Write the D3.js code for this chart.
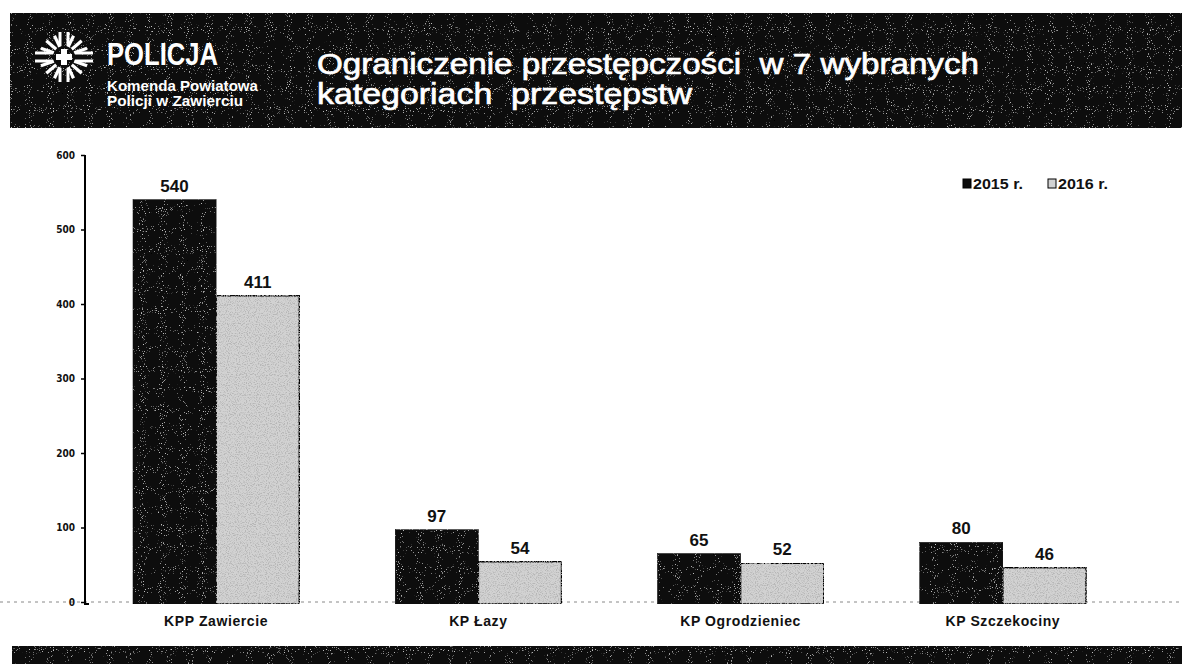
<!DOCTYPE html>
<html>
<head>
<meta charset="utf-8">
<script src="https://cdn.jsdelivr.net/npm/d3@7"></script>
<style>
  body { margin: 0; background: #fff; }
  svg { display: block; }
</style>
</head>
<body>
<div id="graf"></div>
<script>
const W = 1182
const H = 664

// Data
const categories = ["KPP Zawiercie", "KP Łazy", "KP Ogrodzieniec", "KP Szczekociny"]
const years = ["2015 r.", "2016 r."]
const values2015 = [540, 97, 65, 80]
const values2016 = [411, 54, 52, 46]
const yTicks = [0, 100, 200, 300, 400, 500, 600]

const svg = d3.select("#graf")
  .append("svg")
  .attr("width", W)
  .attr("height", H)

// texture filters (scan look)
const defs = svg.append("defs")
const mkFilter = (id, dotColor, scale, bias, freq) => {
  const f = defs.append("filter").attr("id", id)
    .attr("x", 0).attr("y", 0).attr("width", 1).attr("height", 1)
  f.append("feTurbulence").attr("type", "fractalNoise")
    .attr("baseFrequency", freq).attr("numOctaves", 1).attr("seed", 7).attr("result", "n")
  const c = d3.color(dotColor)
  f.append("feColorMatrix").attr("in", "n").attr("type", "matrix")
    .attr("values", `0 0 0 0 ${c.r / 255}  0 0 0 0 ${c.g / 255}  0 0 0 0 ${c.b / 255}  ${scale} 0 0 0 ${bias}`)
    .attr("result", "dots")
  f.append("feComposite").attr("in", "dots").attr("in2", "SourceGraphic")
    .attr("operator", "in").attr("result", "d2")
  const m = f.append("feMerge")
  m.append("feMergeNode").attr("in", "SourceGraphic")
  m.append("feMergeNode").attr("in", "d2")
}
mkFilter("speckW", "#8a8a8a", 9, -5.9, 0.95)
mkFilter("speckK", "#777777", 5, -2.4, 0.9)

// header band
svg.append("rect")
  .attr("x", 10).attr("y", 13).attr("width", W - 10).attr("height", 115)
  .attr("fill", "#0e0e0e").attr("filter", "url(#speckW)")

// police emblem
const logo = svg.append("g").attr("transform", "translate(64,57)")
  .attr("stroke", "#fff").attr("stroke-linecap", "butt")
d3.range(16).forEach(i => {
  const a = (i * Math.PI * 2) / 16
  if (i % 4 === 0) return
  logo.append("line")
    .attr("x1", Math.cos(a) * 11).attr("y1", Math.sin(a) * 11)
    .attr("x2", Math.cos(a) * 25).attr("y2", Math.sin(a) * 23)
    .attr("stroke-width", 3.2)
})
;[-4, 4].forEach(o => {
  logo.append("line").attr("x1", -29).attr("x2", -11).attr("y1", o).attr("y2", o).attr("stroke-width", 3)
  logo.append("line").attr("x1", 11).attr("x2", 29).attr("y1", o).attr("y2", o).attr("stroke-width", 3)
  logo.append("line").attr("x1", o).attr("x2", o).attr("y1", -25).attr("y2", -11).attr("stroke-width", 3)
  logo.append("line").attr("x1", o).attr("x2", o).attr("y1", 11).attr("y2", 25).attr("stroke-width", 3)
})
logo.append("path").attr("d", "M-8,-3H-3V-8H3V-3H8V3H3V8H-3V3H-8Z")
  .attr("fill", "#fff").attr("stroke", "none")

const headText = (txt, x, y, size, weight, len) =>
  svg.append("text")
    .attr("x", x).attr("y", y)
    .attr("fill", "#fff")
    .attr("font-family", "'Liberation Sans Narrow', 'Liberation Sans', Arial, sans-serif")
    .attr("font-size", size).attr("font-weight", weight)
    .attr("textLength", len).attr("lengthAdjust", "spacingAndGlyphs")
    .text(txt)

headText("POLICJA", 107, 65, 31, "bold", 111)
headText("Komenda Powiatowa", 107, 91, 14, "bold", 151)
headText("Policji w Zawierciu", 107, 106, 14, "bold", 136)

const titleFont = "'Liberation Sans', Arial, sans-serif"
const title = (txt, yy, len) =>
  svg.append("text").attr("x", 317).attr("y", yy)
    .attr("fill", "#fff").attr("stroke", "#fff").attr("stroke-width", 0.7)
    .attr("font-family", titleFont).attr("font-size", 30)
    .attr("textLength", len).attr("lengthAdjust", "spacingAndGlyphs")
    .attr("xml:space", "preserve")
    .text(txt)
title("Ograniczenie przestępczości  w 7 wybranych", 74, 662)
title("kategoriach  przestępstw", 104, 375)

// bottom band
svg.append("rect")
  .attr("x", 12).attr("y", 646).attr("width", W - 12).attr("height", 18)
  .attr("fill", "#0e0e0e").attr("filter", "url(#speckW)")

// Escaladores
const y = d3.scaleLinear().domain([0, 600]).range([602, 155])
const x0 = d3.scaleBand().domain(categories).range([85, 1134])
  .paddingInner(0.366).paddingOuter(0.183)
const x1 = d3.scaleBand().domain(years).range([0, x0.bandwidth()])
const fills = { "2015 r.": "#0c0c0c", "2016 r.": "#d2d2d2" }

// dotted baseline
svg.append("line")
  .attr("x1", 0).attr("x2", W).attr("y1", y(0)).attr("y2", y(0))
  .attr("stroke", "#888").attr("stroke-width", 1)
  .attr("stroke-dasharray", "3,4")

// y axis
const yAxis = d3.axisLeft(y).tickValues(yTicks).tickSize(4).tickPadding(6)
const ga = svg.append("g").attr("transform", "translate(85,0)").call(yAxis)
ga.select(".domain").attr("stroke", "#000").attr("stroke-width", 2)
  .attr("d", `M0,${y(600)}V${y(0) + 2}H4`)
ga.selectAll(".tick line").attr("stroke", "#000").attr("stroke-width", 1.5)
ga.selectAll(".tick text")
  .attr("fill", "#111")
  .attr("font-family", "'DejaVu Sans Condensed', 'DejaVu Sans', sans-serif")
  .attr("font-weight", "bold")
  .attr("font-size", 10)

// bars
const rows = categories.map((c, i) => ({
  cat: c,
  vals: [
    { year: years[0], v: values2015[i] },
    { year: years[1], v: values2016[i] },
  ],
}))

const groups = svg.selectAll("g.grupo").data(rows).join("g")
  .attr("class", "grupo")
  .attr("transform", d => `translate(${x0(d.cat)},0)`)

groups.selectAll("rect").data(d => d.vals).join("rect")
  .attr("x", d => x1(d.year))
  .attr("y", d => y(d.v))
  .attr("width", x1.bandwidth())
  .attr("height", d => y(0) - y(d.v) + 2)
  .attr("fill", d => fills[d.year])
  .attr("stroke", "#000")
  .attr("stroke-width", d => (d.year === years[1] ? 1.5 : 0.5))
  .attr("filter", d => (d.year === years[0] ? "url(#speckW)" : "url(#speckK)"))

groups.selectAll("text.val").data(d => d.vals).join("text")
  .attr("class", "val")
  .attr("x", d => x1(d.year) + x1.bandwidth() / 2)
  .attr("y", d => y(d.v) - 8)
  .attr("text-anchor", "middle")
  .attr("font-family", "'Liberation Sans', Arial, sans-serif")
  .attr("font-weight", "bold")
  .attr("font-size", 17)
  .attr("fill", "#111")
  .text(d => d.v)

// category labels
svg.selectAll("text.cat").data(categories).join("text")
  .attr("class", "cat")
  .attr("x", d => x0(d) + x0.bandwidth() / 2)
  .attr("y", 626)
  .attr("text-anchor", "middle")
  .attr("font-family", "'Liberation Sans', Arial, sans-serif")
  .attr("font-weight", "bold")
  .attr("font-size", 14)
  .attr("letter-spacing", 0.6)
  .attr("fill", "#111")
  .text(d => d)

// legend
const leg = svg.append("g").attr("transform", "translate(963,189)")
let lx = 0
years.forEach((yr, i) => {
  leg.append("rect")
    .attr("x", lx).attr("y", -10).attr("width", 8).attr("height", 9)
    .attr("fill", fills[yr]).attr("stroke", "#000").attr("stroke-width", 1)
  leg.append("text")
    .attr("x", lx + 10).attr("y", 0)
    .attr("font-family", "'Liberation Sans', Arial, sans-serif")
    .attr("font-weight", "bold").attr("font-size", 15)
    .attr("textLength", 50).attr("lengthAdjust", "spacingAndGlyphs")
    .attr("fill", "#111")
    .text(yr)
  lx += 85
})
</script>
</body>
</html>
